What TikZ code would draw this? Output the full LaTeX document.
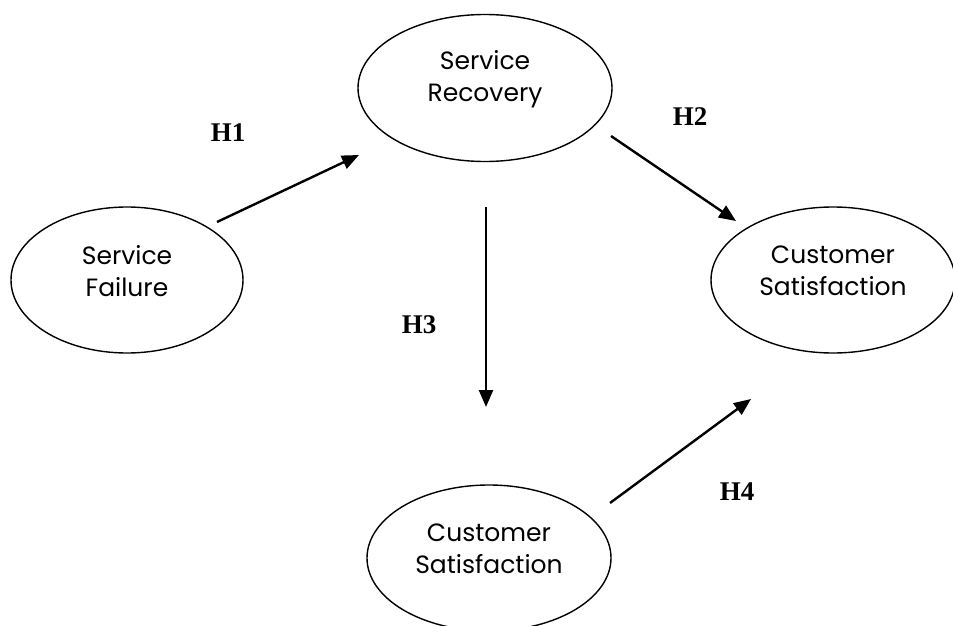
\documentclass[tikz,border=0pt]{standalone}
\usepackage{fontspec}
\usetikzlibrary{shapes.geometric,arrows.meta}
\newfontfamily\boxfont{Poppins}
\newfontfamily\hypfont{Liberation Serif}
\tikzset{
  construct/.style={draw, line width=1.4pt, ellipse, inner sep=0pt},
  constructtext/.style={align=center, font=\boxfont\fontsize{25}{32}\selectfont, inner sep=0pt},
  hyp/.style={line width=2.4pt, -{Triangle[length=17pt,width=14pt]}},
  hyplabel/.style={font=\hypfont\bfseries\fontsize{27}{30}\selectfont, inner sep=0pt}
}
\begin{document}
\begin{tikzpicture}[x=1pt,y=-1pt]
	\useasboundingbox (0,0) rectangle (953,626);
	\clip (0,0) rectangle (953,626);

	% the four constructs
	\node[construct, minimum width=232pt, minimum height=146pt] (fail) at (127,280) {};
	\node[construct, minimum width=254pt, minimum height=147pt] (recov) at (485,88) {};
	\node[construct, minimum width=244pt, minimum height=146pt] (satright) at (833,280) {};
	\node[construct, minimum width=244pt, minimum height=146pt] (satbottom) at (489,558) {};

	\node[constructtext] (failtext) at ([yshift=9pt]fail.center) {Service\\Failure};
	\node[constructtext] (recovtext) at ([yshift=9pt]recov.center) {Service\\Recovery};
	\node[constructtext] (satrighttext) at ([yshift=9pt]satright.center) {Customer\\Satisfaction};
	\node[constructtext] (satbottomtext) at ([yshift=9pt]satbottom.center) {Customer\\Satisfaction};

	% ends of the hypothesis arrows
	\coordinate (h1from) at (217,222);
	\coordinate (h1to) at (359,155);
	\coordinate (h2from) at (611,136);
	\coordinate (h2to) at (736,221);
	\coordinate (h3from) at (486,207);
	\coordinate (h3to) at (486,407);
	\coordinate (h4from) at (610,503);
	\coordinate (h4to) at (751,399);

	\draw[hyp] (h1from) -- (h1to);
	\draw[hyp] (h2from) -- (h2to);
	\draw[hyp] (h3from) -- (h3to);
	\draw[hyp] (h4from) -- (h4to);

	\node[hyplabel] (h1) at (228,133) {H1};
	\node[hyplabel] (h2) at (690,117) {H2};
	\node[hyplabel] (h3) at (419,325) {H3};
	\node[hyplabel] (h4) at (737,492) {H4};
\end{tikzpicture}
\end{document}
